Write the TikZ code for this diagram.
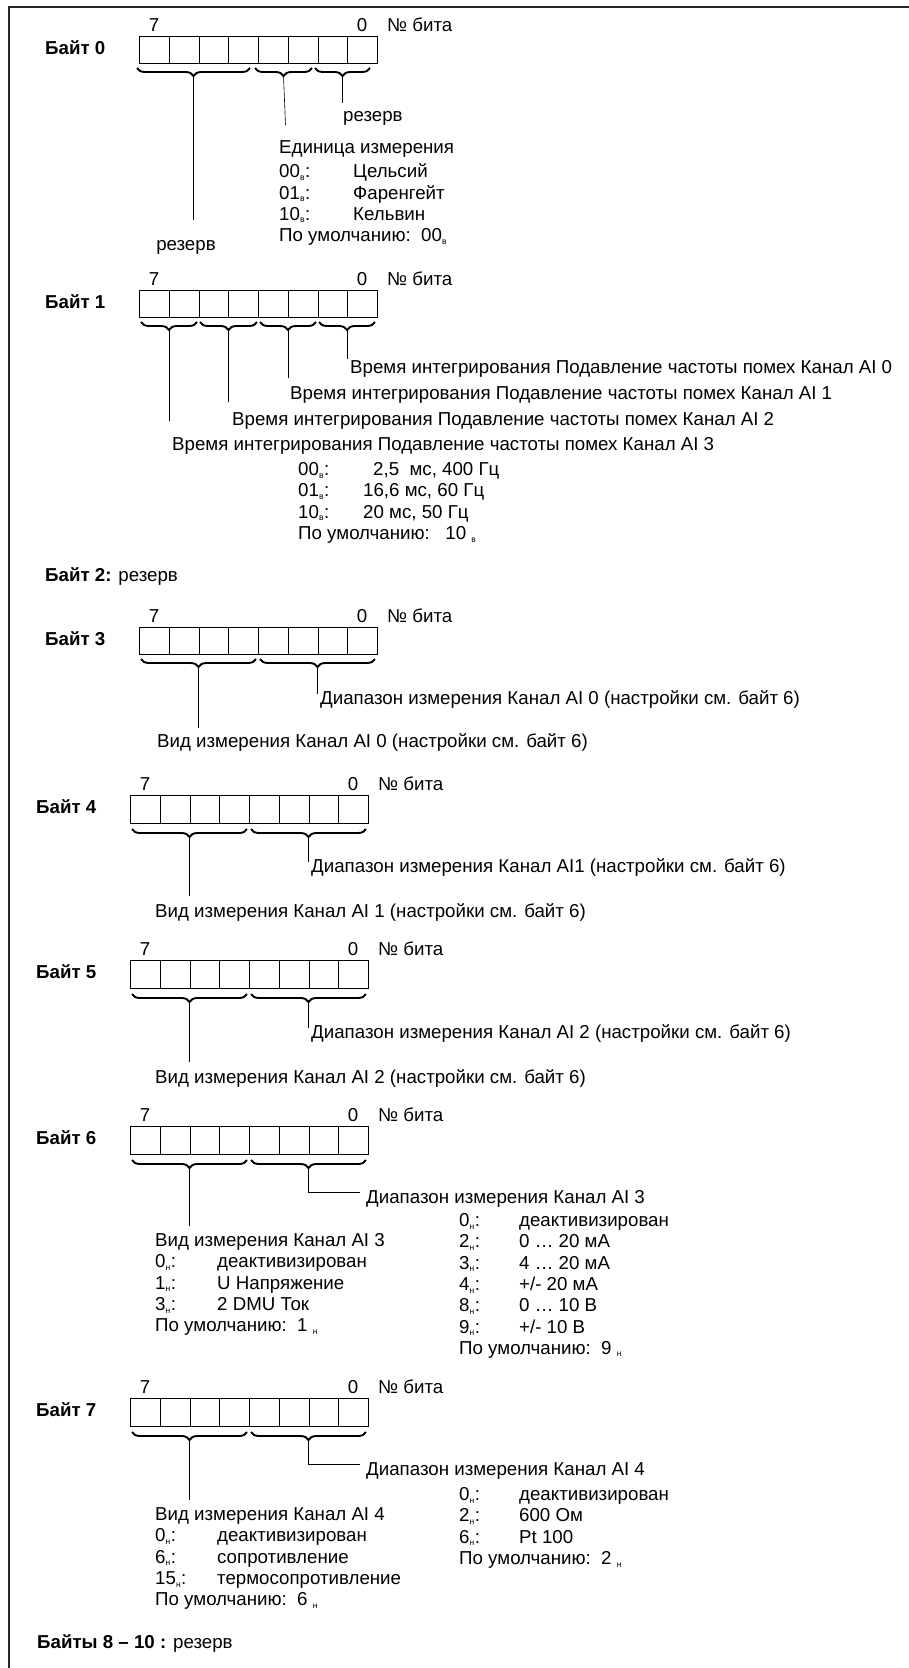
\documentclass[tikz,border=0pt]{standalone}
\usepackage{fontspec}
\setmainfont{Liberation Sans}
\usetikzlibrary{decorations.pathreplacing}
\newcommand{\lowidx}[1]{\textsubscript{\fontsize{8.5}{8.5}\selectfont #1}}
\begin{document}
\begin{tikzpicture}[x=1pt,y=-1pt,
  every node/.style={font=\fontsize{18.7}{21.3}\selectfont,inner sep=0pt,anchor=base west},
  bytename/.style={font=\fontsize{18.7}{21.3}\selectfont\bfseries},
  bitcell/.style={draw,line width=0.8pt,minimum width=29.75pt,minimum height=#1,anchor=north west},
  brc/.style={decorate,decoration={brace,mirror,amplitude=8pt},line width=1.9pt},
  lead/.style={line width=0.6pt}]
\useasboundingbox (0,0) rectangle (909,1668);
\draw[line width=1.5pt,black!85] (9,1668) -- (9,7) -- (909,7);
\foreach \x/\y/\h/\n in {139/36/27/0,139/290/27/1,139/627/27/3,130/795/28/4,130/960/28/5,130/1126/28/6,130/1398/28/7}{
  \foreach \b in {7,...,0}
    \node[bitcell=\h*1pt] (b\n-\b) at ({\x+(7-\b)*29.75},\y) {};
  \node[bytename] (name\n) at (\x-94,\y+\h/2+4.5) {Байт \n};
  \node[anchor=base] (hi\n) at (\x+15,\y-4.5) {7};
  \node[anchor=base] (lo\n) at (\x+223,\y-4.5) {0};
  \node (nr\n) at (\x+248,\y-4.5) {№ бита};
}
\draw[brc] (137,68) -- (250,68);
\draw[brc] (255,68) -- (312,68);
\draw[brc] (315,68) -- (370,68);
\coordinate (t0a) at (193.5,76);
\coordinate (t0b) at (283.5,76);
\coordinate (t0c) at (342.5,76);
\coordinate (e0a) at (193.5,220);
\coordinate (e0b) at (285.5,125);
\coordinate (e0c) at (342.5,103);
\draw[lead] (t0a) -- (e0a);
\draw[lead] (t0b) -- (e0b);
\draw[lead] (t0c) -- (e0c);
\node[anchor=base] (res0a) at (186,250.5) {резерв};
\node (res0b) at (343,121.5) {резерв};
\node (unit0) at (279,153.5) {\begin{tabular}[t]{@{}p{74pt}@{}l@{}}
  \multicolumn{2}{@{}l@{}}{Единица измерения}\\[3pt]
  00\lowidx{в}: & Цельсий\\
  01\lowidx{в}: & Фаренгейт\\
  10\lowidx{в}: & Кельвин\\
  \multicolumn{2}{@{}l@{}}{По умолчанию:\ \ 00\lowidx{в}}
\end{tabular}};
\draw[brc] (141,322) -- (197,322);
\draw[brc] (200,322) -- (257,322);
\draw[brc] (260,322) -- (316,322);
\draw[brc] (319,322) -- (375,322);
\coordinate (t1a) at (169,330);
\coordinate (t1b) at (228.5,330);
\coordinate (t1c) at (288,330);
\coordinate (t1d) at (347,330);
\coordinate (e1a) at (169,421);
\coordinate (e1b) at (228.5,402);
\coordinate (e1c) at (288,378);
\coordinate (e1d) at (347,359);
\draw[lead] (t1a) -- (e1a);
\draw[lead] (t1b) -- (e1b);
\draw[lead] (t1c) -- (e1c);
\draw[lead] (t1d) -- (e1d);
\node (ai0) at (350,373.5) {Время интегрирования Подавление частоты помех Канал AI 0};
\node (ai1) at (290,399.5) {Время интегрирования Подавление частоты помех Канал AI 1};
\node (ai2) at (232,425.5) {Время интегрирования Подавление частоты помех Канал AI 2};
\node (ai3) at (172,450.5) {Время интегрирования Подавление частоты помех Канал AI 3};
\node (time1) at (298,475.5) {\begin{tabular}[t]{@{}p{65pt}@{}l@{}}
  00\lowidx{в}: & \hspace{10pt}2,5\ \ мс, 400 Гц\\
  01\lowidx{в}: & 16,6 мс, 60 Гц\\
  10\lowidx{в}: & 20 мс, 50 Гц\\
  \multicolumn{2}{@{}l@{}}{По умолчанию:\ \ \ 10 \lowidx{в}}
\end{tabular}};
\node (name2) at (45,581.5) {\textbf{Байт 2:} резерв};
\draw[brc] (141,659) -- (256,659);
\draw[brc] (260,659) -- (375,659);
\coordinate (t3a) at (198.5,667);
\coordinate (t3b) at (317.5,667);
\coordinate (e3a) at (198.5,728);
\coordinate (e3b) at (317.5,694);
\draw[lead] (t3a) -- (e3a);
\draw[lead] (t3b) -- (e3b);
\node (rng3) at (320,704.5) {Диапазон измерения Канал AI 0 (настройки см. байт 6)};
\node (kind3) at (157,747.5) {Вид измерения Канал AI 0 (настройки см. байт 6)};
\draw[brc] (132,829) -- (247,829);
\draw[brc] (251,829) -- (366,829);
\coordinate (t4a) at (189.5,837);
\coordinate (t4b) at (308.5,837);
\coordinate (e4a) at (189.5,896);
\coordinate (e4b) at (308.5,862);
\draw[lead] (t4a) -- (e4a);
\draw[lead] (t4b) -- (e4b);
\node (rng4) at (311,872.5) {Диапазон измерения Канал AI1 (настройки см. байт 6)};
\node (kind4) at (155,917.5) {Вид измерения Канал AI 1 (настройки см. байт 6)};
\draw[brc] (132,994) -- (247,994);
\draw[brc] (251,994) -- (366,994);
\coordinate (t5a) at (189.5,1002);
\coordinate (t5b) at (308.5,1002);
\coordinate (e5a) at (189.5,1062);
\coordinate (e5b) at (308.5,1028);
\draw[lead] (t5a) -- (e5a);
\draw[lead] (t5b) -- (e5b);
\node (rng5) at (311,1038.5) {Диапазон измерения Канал AI 2 (настройки см. байт 6)};
\node (kind5) at (155,1083.5) {Вид измерения Канал AI 2 (настройки см. байт 6)};
\draw[brc] (132,1160) -- (247,1160);
\draw[brc] (251,1160) -- (366,1160);
\coordinate (t6a) at (189.5,1168);
\coordinate (t6b) at (308.5,1168);
\coordinate (e6a) at (189.5,1226);
\coordinate (e6b) at (360,1192);
\draw[lead] (t6a) -- (e6a);
\draw[lead] (t6b) |- (e6b);
\node (rng6) at (366,1203.5) {Диапазон измерения Канал AI 3};
\node (kind6) at (155,1246.5) {\begin{tabular}[t]{@{}p{62pt}@{}l@{}}
  \multicolumn{2}{@{}l@{}}{Вид измерения Канал AI 3}\\
  0\lowidx{н}: & деактивизирован\\
  1\lowidx{н}: & U Напряжение\\
  3\lowidx{н}: & 2 DMU Ток\\
  \multicolumn{2}{@{}l@{}}{По умолчанию:\ \ 1 \lowidx{н}}
\end{tabular}};
\node (val6) at (459,1226.5) {\begin{tabular}[t]{@{}p{60pt}@{}l@{}}
  0\lowidx{н}: & деактивизирован\\
  2\lowidx{н}: & 0 … 20 мА\\
  3\lowidx{н}: & 4 … 20 мА\\
  4\lowidx{н}: & +/- 20 мА\\
  8\lowidx{н}: & 0 … 10 В\\
  9\lowidx{н}: & +/- 10 В\\
  \multicolumn{2}{@{}l@{}}{По умолчанию:\ \ 9 \lowidx{н}}
\end{tabular}};
\draw[brc] (132,1432) -- (247,1432);
\draw[brc] (251,1432) -- (366,1432);
\coordinate (t7a) at (189.5,1440);
\coordinate (t7b) at (308.5,1440);
\coordinate (e7a) at (189.5,1500);
\coordinate (e7b) at (360,1464);
\draw[lead] (t7a) -- (e7a);
\draw[lead] (t7b) |- (e7b);
\node (rng7) at (366,1475.5) {Диапазон измерения Канал AI 4};
\node (kind7) at (155,1520.5) {\begin{tabular}[t]{@{}p{62pt}@{}l@{}}
  \multicolumn{2}{@{}l@{}}{Вид измерения Канал AI 4}\\
  0\lowidx{н}: & деактивизирован\\
  6\lowidx{н}: & сопротивление\\
  15\lowidx{н}: & термосопротивление\\
  \multicolumn{2}{@{}l@{}}{По умолчанию:\ \ 6 \lowidx{н}}
\end{tabular}};
\node (val7) at (459,1500.5) {\begin{tabular}[t]{@{}p{60pt}@{}l@{}}
  0\lowidx{н}: & деактивизирован\\
  2\lowidx{н}: & 600 Ом\\
  6\lowidx{н}: & Pt 100\\
  \multicolumn{2}{@{}l@{}}{По умолчанию:\ \ 2 \lowidx{н}}
\end{tabular}};
\node (name8) at (37,1648.5) {\textbf{Байты 8 – 10 :} резерв};
\end{tikzpicture}
\end{document}
